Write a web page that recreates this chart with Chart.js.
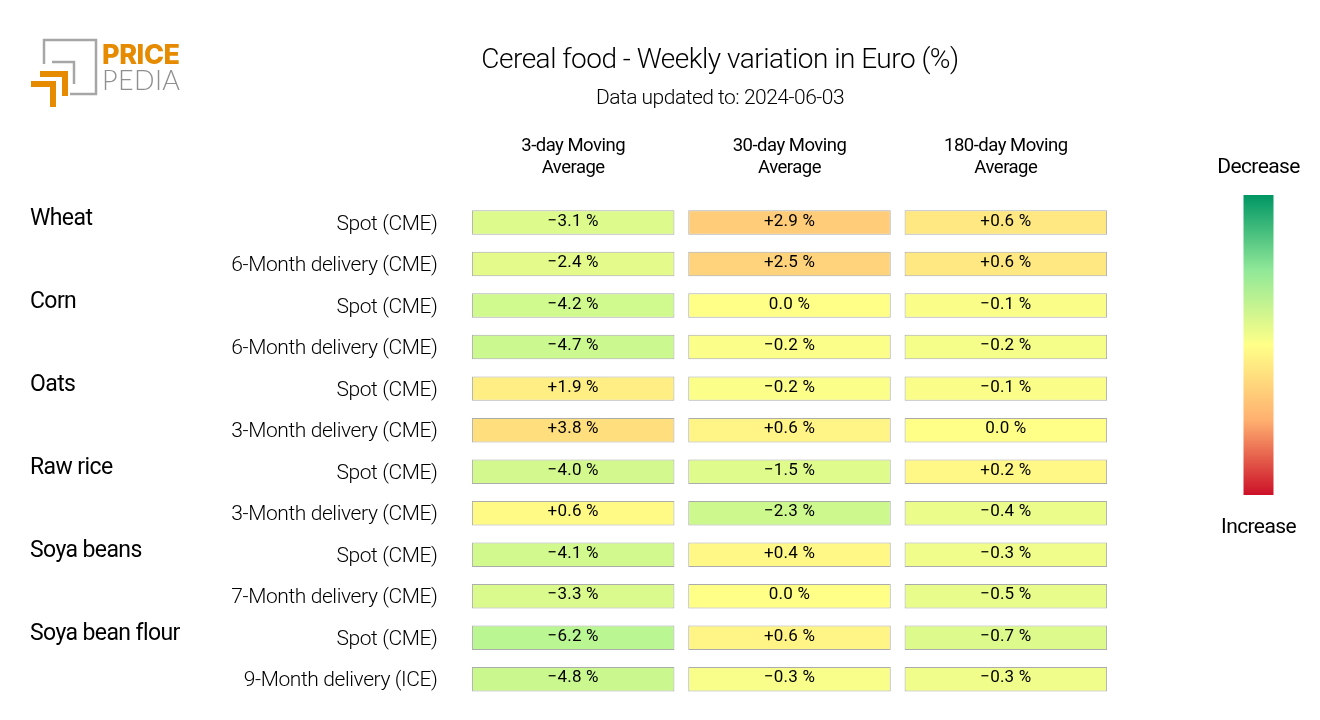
<!DOCTYPE html>
<html>
<head>
<meta charset="utf-8">
<title>Cereal food</title>
<script src="https://cdn.jsdelivr.net/npm/chart.js@4"></script>
<style>
html, body { margin: 0; padding: 0; background: #fff; }
#wrap { position: relative; width: 1320px; height: 720px; overflow: hidden; }
#logo { position: absolute; left: 0; top: 0; }
</style>
</head>
<body>
<div id="wrap">
<canvas id="chart" width="1320" height="720"></canvas>
<svg id="logo" width="240" height="130">
  <path d="M44 64 V40 H96 V94 H70" fill="none" stroke="#a6a6a6" stroke-width="2.5"/>
  <path d="M52 62 H74 V84" fill="none" stroke="#a6a6a6" stroke-width="2.5"/>
  <path d="M40 74 H65 V96" fill="none" stroke="#e68a00" stroke-width="6"/>
  <path d="M31 84 H53 V107" fill="none" stroke="#e68a00" stroke-width="6"/>
  <text x="102" y="64" font-family="Inter" font-weight="800" font-size="27" fill="#e68a00" textLength="78">PRICE</text>
  <text x="102" y="90" font-family="Lato" font-weight="300" font-size="27" fill="#8f8f8f" textLength="78">PEDIA</text>
</svg>
</div>
<script>
// 行と列のラベル
const groupNames = ['Wheat', 'Corn', 'Oats', 'Raw rice', 'Soya beans', 'Soya bean flour'];
const rowLabels = ['Spot (CME)', '6-Month delivery (CME)', 'Spot (CME)', '6-Month delivery (CME)', 'Spot (CME)', '3-Month delivery (CME)', 'Spot (CME)', '3-Month delivery (CME)', 'Spot (CME)', '7-Month delivery (CME)', 'Spot (CME)', '9-Month delivery (ICE)'];
const columnLabels = [['3-day Moving', 'Average'], ['30-day Moving', 'Average'], ['180-day Moving', 'Average']];

// 週間変動率 (%)
const ma3Values = [-3.1, -2.4, -4.2, -4.7, 1.9, 3.8, -4.0, 0.6, -4.1, -3.3, -6.2, -4.8];
const ma30Values = [2.9, 2.5, 0.0, -0.2, -0.2, 0.6, -1.5, -2.3, 0.4, 0.0, 0.6, -0.3];
const ma180Values = [0.6, 0.6, -0.1, -0.2, -0.1, 0.0, 0.2, -0.4, -0.3, -0.5, -0.7, -0.3];

// 列ごとの色の強さ (期間が長いほど小さい変動で色が変わる)
const columnColorFactors = [1, 2, 4.4];

const FONT = 'Roboto';

// カラースケール (緑 -> 黄 -> 赤)
const colorStops = [
    [-20, [0, 150, 100]],
    [-10, [144, 240, 150]],
    [0, [255, 255, 136]],
    [9, [255, 176, 112]],
    [20, [204, 16, 40]]
];

function cellColor(v) {
    for (let i = 1; i < colorStops.length; i++) {
        const [v0, c0] = colorStops[i - 1];
        const [v1, c1] = colorStops[i];
        if (v <= v1) {
            const t = (v - v0) / (v1 - v0);
            const c = c0.map((x, k) => Math.round(x + (c1[k] - x) * t));
            return `rgb(${c[0]}, ${c[1]}, ${c[2]})`;
        }
    }
    return 'rgb(204, 16, 40)';
}

function formatValue(v) {
    if (v === 0) return '0.0 %';
    return (v > 0 ? '+' : '\u2212') + Math.abs(v).toFixed(1) + ' %';
}

// 各列を横方向のセルとして作る
function makeDataset(values, col) {
    return {
        label: columnLabels[col].join(' '),
        data: values.map(() => [col + 0.032, col + 0.968]),
        rawValues: values,
        backgroundColor: values.map(v => cellColor(v * columnColorFactors[col])),
        borderColor: 'rgba(90, 90, 90, 0.5)',
        borderWidth: 1,
        borderSkipped: false,
        grouped: false,
        barPercentage: 0.59,
        categoryPercentage: 1
    };
}

// タイトルなどの字間
const spacingPlugin = {
    id: 'spacing',
    beforeDraw(chart) {
        chart.ctx.letterSpacing = '-0.5px';
    }
};

// セルの数値、行ラベル、グループ名、凡例を描画する
const overlayPlugin = {
    id: 'overlay',
    afterDatasetsDraw(chart) {
        const ctx = chart.ctx;
        const xScale = chart.scales.x;
        const yScale = chart.scales.y;
        ctx.save();
        ctx.fillStyle = '#000';
        ctx.textBaseline = 'middle';

        // セルの数値
        ctx.letterSpacing = '0.2px';
        ctx.textAlign = 'center';
        ctx.font = `17px ${FONT}`;
        chart.data.datasets.forEach((ds, d) => {
            chart.getDatasetMeta(d).data.forEach((bar, i) => {
                ctx.fillText(formatValue(ds.rawValues[i]), xScale.getPixelForValue(d + 0.5), bar.y - 1);
            });
        });

        // 行ラベル
        ctx.letterSpacing = '-0.4px';
        ctx.textAlign = 'right';
        ctx.font = `300 21px ${FONT}`;
        rowLabels.forEach((label, i) => {
            ctx.fillText(label, 437.5, yScale.getPixelForValue(i) + 2);
        });

        // グループ名
        ctx.letterSpacing = '-0.6px';
        ctx.textAlign = 'left';
        ctx.font = `23px ${FONT}`;
        groupNames.forEach((name, i) => {
            ctx.fillText(name, 30, yScale.getPixelForValue(i * 2) - 3);
        });

        // 凡例
        const grad = ctx.createLinearGradient(0, 195, 0, 495);
        grad.addColorStop(0, '#009664');
        grad.addColorStop(0.25, '#90e898');
        grad.addColorStop(0.5, '#ffff88');
        grad.addColorStop(0.75, '#ffb070');
        grad.addColorStop(1, '#cc1028');
        ctx.fillStyle = grad;
        ctx.fillRect(1243.5, 195, 30, 300);
        ctx.fillStyle = '#000';
        ctx.letterSpacing = '-0.6px';
        ctx.textAlign = 'center';
        ctx.font = `21px ${FONT}`;
        ctx.fillText('Decrease', 1258.5, 167.5);
        ctx.fillText('Increase', 1258.5, 527.5);
        ctx.restore();
    }
};

new Chart(document.getElementById('chart').getContext('2d'), {
    type: 'bar',
    data: {
        labels: rowLabels,
        datasets: [makeDataset(ma3Values, 0), makeDataset(ma30Values, 1), makeDataset(ma180Values, 2)]
    },
    options: {
        indexAxis: 'y',
        responsive: false,
        animation: false,
        devicePixelRatio: 1,
        layout: { padding: { left: 326, right: 206, top: 0, bottom: 20 } },
        plugins: {
            legend: { display: false },
            tooltip: { enabled: false },
            title: {
                display: true,
                text: 'Cereal food - Weekly variation in Euro (%)',
                color: '#000',
                font: { family: FONT, size: 28, weight: 300 },
                padding: { top: 44, bottom: 9 }
            },
            subtitle: {
                display: true,
                text: 'Data updated to: 2024-06-03',
                color: '#000',
                font: { family: FONT, size: 21, weight: 300 },
                padding: { top: 0, bottom: 0 }
            }
        },
        scales: {
            x: {
                type: 'linear',
                position: 'top',
                min: 0,
                max: 3,
                grid: { display: false, drawTicks: false },
                border: { display: false },
                afterBuildTicks(axis) {
                    axis.ticks = [{ value: 0.5 }, { value: 1.5 }, { value: 2.5 }];
                },
                afterFit(axis) { axis.height = 90; },
                ticks: {
                    color: '#000',
                    maxRotation: 0,
                    font: { family: FONT, size: 18.5, lineHeight: 1.2 },
                    padding: 22,
                    callback: (value) => columnLabels[Math.floor(value)]
                }
            },
            y: {
                grid: { display: false, drawTicks: false },
                border: { display: false },
                afterFit(axis) { axis.width = 139; },
                ticks: { display: false, autoSkip: false }
            }
        }
    },
    plugins: [spacingPlugin, overlayPlugin]
});
</script>
</body>
</html>
